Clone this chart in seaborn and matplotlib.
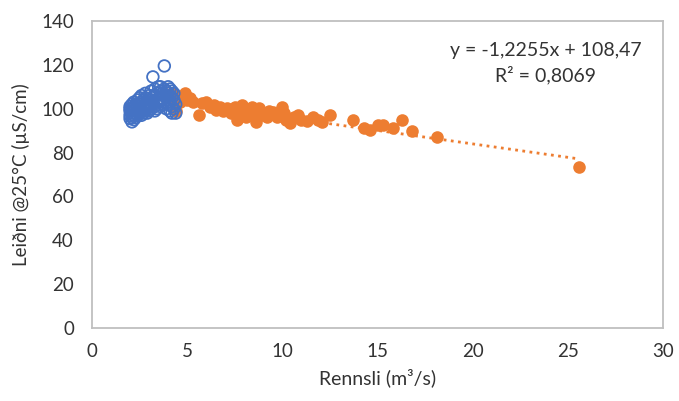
import matplotlib
matplotlib.use("Agg")
import matplotlib.pyplot as plt
import seaborn as sns
import numpy as np
import pandas as pd

# ---- data ----
blue_x = [2.0, 2.0, 2.0, 2.0, 2.0,
          2.1, 2.1, 2.1, 2.1, 2.1,
          2.2, 2.2, 2.2, 2.2, 2.2,
          2.3, 2.3, 2.3, 2.3,
          2.4, 2.4, 2.4, 2.4,
          2.5, 2.5, 2.5, 2.5,
          2.6, 2.6, 2.6, 2.6,
          2.7, 2.7, 2.7,
          2.8, 2.8, 2.8, 2.8,
          2.9, 2.9, 2.9,
          3.0, 3.0, 3.0, 3.0,
          3.1, 3.1, 3.1,
          3.2, 3.2, 3.2,
          3.3, 3.3, 3.3, 3.3,
          3.4, 3.4, 3.4,
          3.5, 3.5, 3.5,
          3.6, 3.6, 3.6, 3.6,
          3.7, 3.7, 3.7,
          3.8, 3.8, 3.8, 3.8,
          3.9, 3.9, 3.9,
          4.0, 4.0, 4.0, 4.0,
          4.1, 4.1, 4.1, 4.1,
          4.2, 4.2, 4.2, 4.2,
          4.3, 4.3, 4.3,
          4.4, 4.4]
blue_y = [101, 99, 97, 95.5, 100,
          94, 96, 98, 100, 102,
          95, 97, 99, 101, 103,
          96, 98, 100, 102,
          97, 99, 101, 104,
          98, 100, 102, 105,
          97, 99, 103, 106,
          98, 101, 104,
          99, 102, 105, 107,
          98, 100, 103,
          99, 101, 104, 106,
          100, 102, 108,
          114.5, 103, 105,
          99, 101, 106, 109,
          100, 103, 107,
          110, 104, 102,
          101, 105, 108, 110,
          102, 104, 107,
          119.5, 103, 106, 109,
          100, 105, 108,
          102, 104, 107, 110,
          99, 103, 106, 109,
          98, 101, 105, 108,
          100, 104, 107,
          98, 102]

orange_x = [4.2, 4.3, 4.4, 4.5, 4.6, 4.8, 4.9, 5.0, 5.15, 5.3, 5.6, 5.8, 6.0,
            6.2, 6.4, 6.5, 6.7, 6.9, 7.1, 7.3, 7.5, 7.6, 7.6, 7.8, 7.9, 8.0,
            8.1, 8.3, 8.4, 8.6, 8.7, 8.8, 9.0, 9.2, 9.3, 9.5, 9.7, 10.0, 10.1,
            10.2, 10.4, 10.6, 10.8, 11.0, 11.3, 11.6, 11.9, 12.1, 12.5, 13.7,
            14.3, 14.6, 15.0, 15.3, 15.8, 16.3, 16.8, 18.1, 25.6]
orange_y = [107, 104, 99, 106, 103, 105, 107, 104, 105, 103, 97, 102.7, 103,
            101, 101.8, 99.5, 101, 99, 100.4, 98, 101, 99.5, 95, 97, 101.8, 99,
            96, 98, 101, 94, 97, 100.4, 97, 96.3, 99, 98.6, 96, 101, 98,
            95, 93.6, 96, 97, 95, 94.5, 96, 95, 94, 97, 95,
            91, 90.4, 92.7, 92.7, 91, 95, 90, 87, 73.5]

trend_slope = -1.2255
trend_intercept = 108.47
eq_text = "y = -1,2255x + 108,47"
r2_text = "R² = 0,8069"

x_ticks = [0, 5, 10, 15, 20, 25, 30]
y_ticks = [0, 20, 40, 60, 80, 100, 120, 140]
x_label = "Rennsli (m³/s)"
y_label = "Leiðni @25°C (µS/cm)"

BLUE = "#4472C4"
ORANGE = "#ED7D31"
GRAY = "#BFBFBF"
TEXT = "#333333"

sns.set_theme(style="white")
plt.rcParams["font.family"] = ["Lato", "DejaVu Sans"]

fig = plt.figure(figsize=(6.79, 4.01), dpi=100)
ax = fig.add_axes([92/679, 1 - 328/401, (663-92)/679, (328-21)/401])

df_o = pd.DataFrame({"x": orange_x, "y": orange_y})
df_b = pd.DataFrame({"x": blue_x, "y": blue_y})

sns.scatterplot(data=df_o, x="x", y="y", ax=ax, color=ORANGE, s=82,
                linewidth=0, zorder=2)
tx = np.array([min(orange_x), max(orange_x)])
sns.lineplot(x=tx, y=trend_slope * tx + trend_intercept, ax=ax, color=ORANGE,
             linewidth=2, linestyle=(0, (1, 1.6)), zorder=3)
sns.scatterplot(data=df_b, x="x", y="y", ax=ax, facecolor="none",
                edgecolor=BLUE, s=70, linewidth=1.3, zorder=4)

ax.set_xlim(0, 30)
ax.set_ylim(0, 140)
ax.set_xticks(x_ticks)
ax.set_yticks(y_ticks)
ax.set_xticklabels([str(t) for t in x_ticks])
ax.set_yticklabels([str(t) for t in y_ticks])
for sp in ax.spines.values():
    sp.set_color(GRAY)
    sp.set_linewidth(1.3)
ax.tick_params(axis="both", direction="in", length=7, width=1.3, color=GRAY,
               labelsize=13.5, labelcolor=TEXT)
ax.tick_params(axis="x", pad=11)
ax.tick_params(axis="y", pad=13)
ax.set_xlabel(x_label, fontsize=14, color=TEXT, labelpad=6)
ax.set_ylabel(y_label, fontsize=13.5, color=TEXT, labelpad=8)

ax.text(0.794, 0.905, eq_text, transform=ax.transAxes, ha="center",
        va="center", fontsize=14, color=TEXT)
ax.text(0.794, 0.823, r2_text, transform=ax.transAxes, ha="center",
        va="center", fontsize=14, color=TEXT)

fig.savefig("out.png", dpi=100)
